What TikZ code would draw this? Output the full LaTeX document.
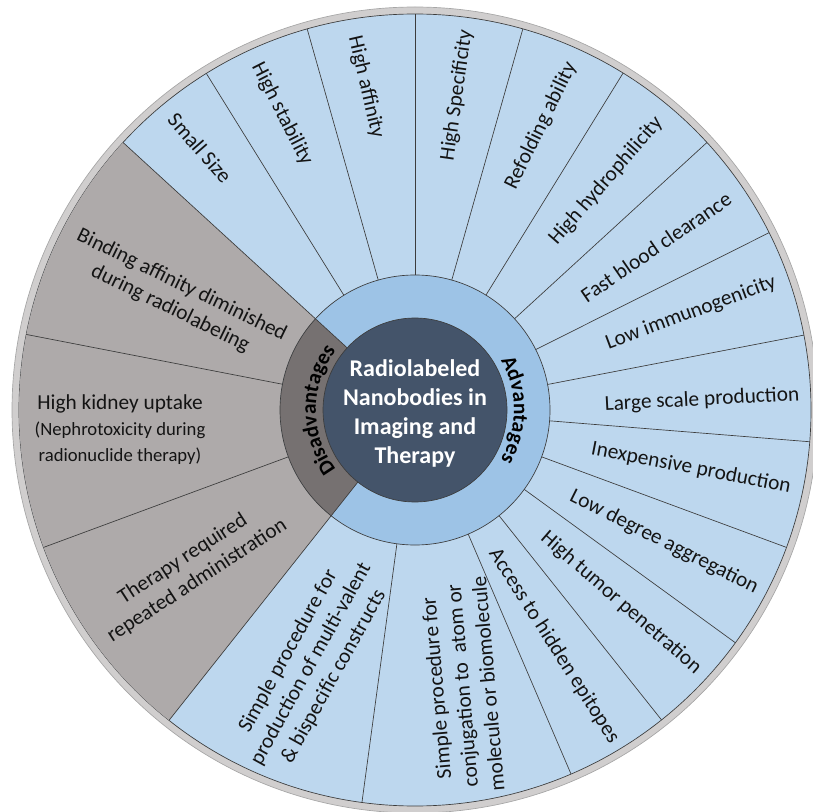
\documentclass[tikz,border=0pt]{standalone}
\usepackage{fontspec}
\setmainfont{Carlito}
\usetikzlibrary{decorations.text}

\tikzset{every picture/.style={line width=0.75pt}}
\tikzset{
  rimband/.style={draw={rgb, 255:red, 166; green, 166; blue, 166 }, fill={rgb, 255:red, 208; green, 206; blue, 206 }, line width=0.5pt},
  segline/.style={draw={rgb, 255:red, 60; green, 60; blue, 60 }, line width=0.5pt},
  wheel/.style={fill={rgb, 255:red, 189; green, 215; blue, 238 }},
  graysec/.style={fill={rgb, 255:red, 174; green, 170; blue, 170 }},
  ringblue/.style={fill={rgb, 255:red, 157; green, 195; blue, 230 }},
  ringgray/.style={fill={rgb, 255:red, 118; green, 113; blue, 113 }},
  core/.style={fill={rgb, 255:red, 68; green, 84; blue, 106 }},
  lbl/.style={font=\fontsize{16}{19.5}\selectfont, text={rgb, 255:red, 20; green, 20; blue, 20 }, align=center, inner sep=0pt},
  title/.style={font=\bfseries\fontsize{18}{21.75}\selectfont, text=white, align=center, inner sep=0pt},
  ringtext/.style={decorate, decoration={text along path, text align=center, text={|\bfseries\fontsize{16}{19}\selectfont|#1}}},
}

\begin{document}
\begin{tikzpicture}[x=0.75pt,y=0.75pt,yscale=-1,xscale=1]
	\useasboundingbox (0,0) rectangle (813,812);
	\coordinate (c) at (415,410);

	% Outer rim and wheel
	\draw [rimband] (c) circle [radius=403];
	\draw [segline, wheel] (c) circle [radius=396];
	\fill [graysec] (c) -- ++(-137.5:396) arc [start angle=-137.5, end angle=-231.6, radius=396] -- cycle;

	% Inner ring
	\fill [ringblue] (c) circle [radius=135];
	\fill [ringgray] (c) -- ++(-137.5:135) arc [start angle=-137.5, end angle=-231.6, radius=135] -- cycle;

	%Straight Lines
	\foreach \a in {121.8,105.8,90,74.2,58.3,42.5,26.6,10.9,-4.6,-20.3,-36,-51.5,-66.8,-97.7,169,200.3}
		\draw [segline, shift={(c)}] (-\a:135) -- (-\a:396);
	\foreach \a in {137.5,231.6}
		\draw [segline, shift={(c)}] (-\a:92) -- (-\a:396);
	\draw [segline] (c) circle [radius=135];
	\draw [segline, core] (c) circle [radius=92];

	% Ring Text (y up again, so the letters are not mirrored)
	\begin{scope}[shift={(c)}, yscale=-1]
		\path [ringtext=Advantages] (52:99) arc [start angle=52, end angle=-52, radius=99];
		\path [ringtext=Disadvantages] (232:99) arc [start angle=232, end angle=128, radius=99];
	\end{scope}

	% Text Node
	\node (hub) [title] at (415,413) {Radiolabeled\\Nanobodies in\\Imaging and\\Therapy};

	% Text Node
	\node (small) [lbl, rotate=-49] at (200,148) {Small Size};
	\node (stab) [lbl, rotate=-63] at (282,114) {High stability};
	\node (aff) [lbl, rotate=-77] at (366,87) {High affinity};
	\node (spec) [lbl, rotate=82] at (457,95) {High Specificity};
	\node (refold) [lbl, rotate=64] at (541,126) {Refolding ability};
	\node (hydro) [lbl, rotate=49] at (606,181) {High hydrophilicity};
	\node (blood) [lbl, rotate=34.5] at (656,247) {Fast blood clearance};
	\node (immuno) [lbl, rotate=20.5] at (691,313) {Low immunogenicity};
	\node (scale) [lbl, rotate=3] at (702,400) {Large scale production};
	\node (cost) [lbl, rotate=-11] at (691,468) {Inexpensive production};
	\node (aggr) [lbl, rotate=-26.5] at (664,542) {Low degree aggregation};
	\node (tumor) [lbl, rotate=-41] at (621,603) {High tumor penetration};
	\node (epit) [lbl, rotate=-57.5] at (554,646) {Access to hidden epitopes};
	\node (conj) [lbl, rotate=95] at (462,686) {Simple procedure for\\conjugation to~ atom or\\molecule or biomolecule};
	\node (multi) [lbl, rotate=61] at (311,664) {Simple procedure for\\production of multi-valent\\\& bispecific constructs};

	% Text Node
	\node (therapy) [lbl, rotate=33] at (190,570) {Therapy required\\repeated administration};
	\node (kidney) [lbl] at (120,430) {High kidney uptake\\{\fontsize{14}{16.5}\selectfont (Nephrotoxicity during}\\{\fontsize{14}{16.5}\selectfont radionuclide therapy)}};
	\node (binding) [lbl, rotate=-26] at (176,297) {Binding affinity diminished\\during radiolabeling};

\end{tikzpicture}
\end{document}
